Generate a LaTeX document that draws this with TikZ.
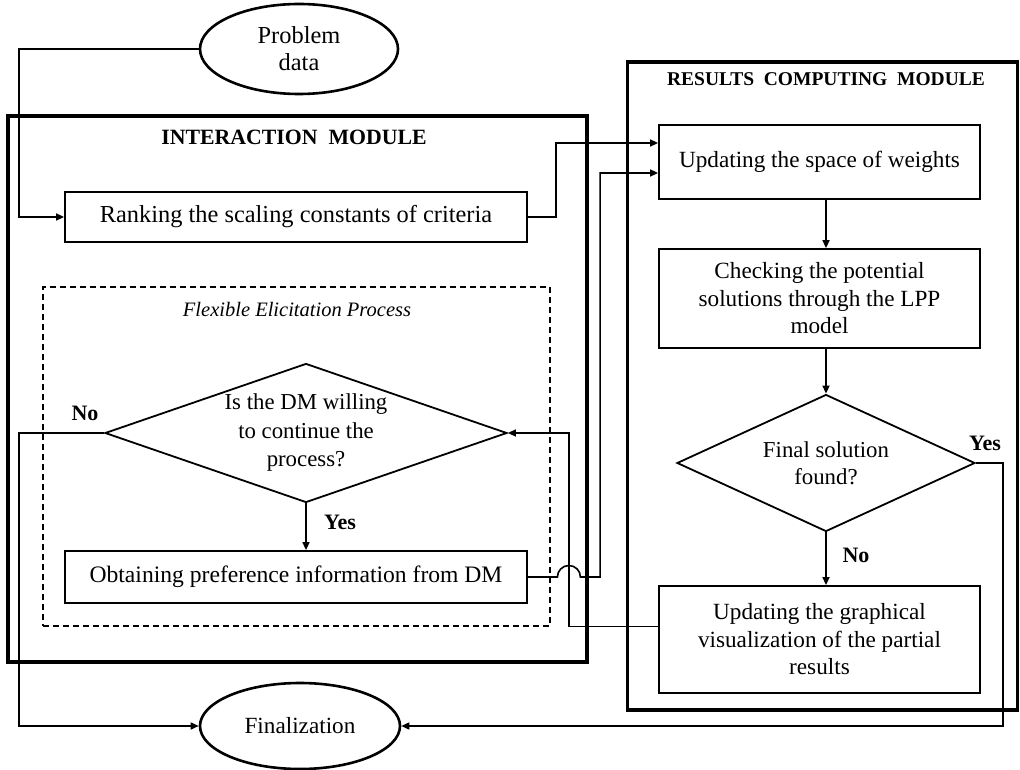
\documentclass[tikz,border=0pt]{standalone}
\usepackage{fontspec}
\setmainfont{Liberation Serif}
\usetikzlibrary{arrows.meta,shapes.geometric,calc}
\begin{document}
\begin{tikzpicture}[x=1pt,y=-1pt,
  txt/.style={font=\fontsize{23.2}{27.5}\selectfont, align=center},
  box/.style={txt, draw, line width=1.8pt, inner sep=0pt},
  dec/.style={txt, draw, shape=diamond, line width=1.8pt, inner sep=0pt},
  term/.style={txt, draw, ellipse, line width=2.6pt, inner sep=0pt},
  module/.style={draw, line width=3.4pt, inner sep=0pt},
  fepbox/.style={draw, line width=1.5pt, dash pattern=on 6pt off 4pt, inner sep=0pt},
  conn/.style={line width=1.6pt},
  arr/.style={conn, -{Triangle[length=8pt,width=7pt]}},
  lab/.style={font=\fontsize{22}{24}\selectfont\bfseries},
  ital/.style={font=\fontsize{20.5}{24}\selectfont\itshape},
]
\fill[white] (0,0) rectangle (1020,770);
\useasboundingbox (0,0) rectangle (1020,770);

% modules
\node[module, minimum width=579, minimum height=546] (im) at (297.5,389) {};
\node[module, minimum width=390, minimum height=648] (rm) at (822.5,386) {};
\node[font=\fontsize{21.8}{24}\selectfont\bfseries] (imt) at (294,137) {INTERACTION\ \ MODULE};
\node[font=\fontsize{19.5}{24}\selectfont\bfseries] (rmt) at (826,79) {RESULTS\ \ COMPUTING\ \ MODULE};
\node[fepbox, minimum width=507, minimum height=339] (fep) at (296.5,456.5) {};
\node[ital] (fept) at (297,309) {Flexible Elicitation Process};

% nodes
\node[term, font=\fontsize{24.4}{27}\selectfont, minimum width=198, minimum height=90] (pd) at (299,49) {Problem\\data};
\node[box, font=\fontsize{24.4}{27.5}\selectfont, minimum width=462, minimum height=50] (rank) at (296,217) {Ranking the scaling constants of criteria};
\node[dec, font=\fontsize{22.8}{28.5}\selectfont, aspect=2.9, minimum width=402, minimum height=139] (d1) at (306,433) {Is the DM willing\\to continue the\\process?};
\node[box, font=\fontsize{23.6}{27.5}\selectfont, minimum width=462, minimum height=52] (obt) at (296,577) {Obtaining preference information from DM};
\node[box, minimum width=321, minimum height=74] (upd) at (819.5,162) {Updating the space of weights};
\node[box, minimum width=321, minimum height=99] (chk) at (819.5,298.5) {Checking the potential\\solutions through the LPP\\model};
\node[dec, font=\fontsize{22.8}{26.5}\selectfont, aspect=2.18, minimum width=298, minimum height=137] (d2) at (826,463) {Final solution\\found?};
\node[box, minimum width=321, minimum height=107] (gr) at (819.5,639.5) {Updating the graphical\\visualization of the partial\\results};
\node[term, minimum width=200, minimum height=86] (fin) at (300,726) {Finalization};

% connectors
\draw[arr] (pd.west) -| ([xshift=-45pt]rank.west) -- (rank.west);
\draw[arr] (rank.east) -- ++(28,0) |- ([yshift=19pt]upd.west);
\draw[arr] (obt.east) -- ++(29.5,0) arc[start angle=180, end angle=360, radius=11.5]
  -| ([xshift=-58pt,yshift=-11pt]upd.west) -- ([yshift=-11pt]upd.west);
\draw[arr] (upd.south -| d2.north) -- (chk.north -| d2.north);
\draw[arr] (chk.south -| d2.north) -- (d2.north);
\draw[arr] (d2.south) -- (gr.north -| d2.south);
\draw[arr] (d2.east) -- ++(27,0) |- (fin.east);
\draw[arr] ([yshift=13pt]gr.west) -| ([xshift=61pt]d1.east) -- (d1.east);
\draw[arr] (d1.west) -- ++(-85,0) |- (fin.west);
\draw[arr] (d1.south) -- (obt.north -| d1.south);

% labels
\node[lab] (lno1) at (85,413) {No};
\node[lab] (lyes1) at (340,522) {Yes};
\node[lab] (lyes2) at (985,443) {Yes};
\node[lab] (lno2) at (856,555) {No};
\end{tikzpicture}
\end{document}
